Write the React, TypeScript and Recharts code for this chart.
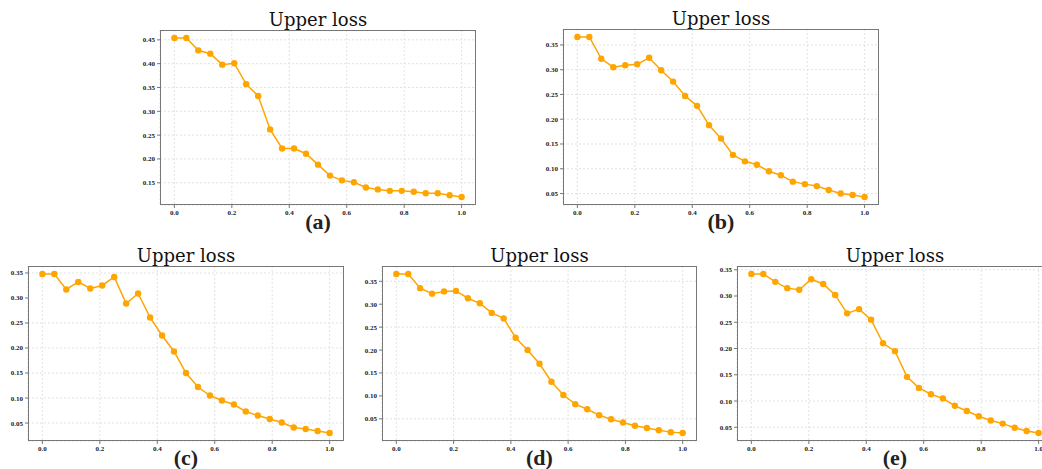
import { CartesianGrid, Line, LineChart, XAxis, YAxis } from 'recharts'

const steps = [
  0, 0.0417, 0.0833, 0.125, 0.1667, 0.2083, 0.25, 0.2917, 0.3333, 0.375, 0.4167, 0.4583, 0.5,
  0.5417, 0.5833, 0.625, 0.6667, 0.7083, 0.75, 0.7917, 0.8333, 0.875, 0.9167, 0.9583, 1.0,
]

const lossA = [
  0.454, 0.454, 0.428, 0.421, 0.398, 0.401, 0.357, 0.332, 0.262, 0.222, 0.222, 0.211, 0.188,
  0.165, 0.155, 0.151, 0.14, 0.136, 0.133, 0.133, 0.131, 0.128, 0.128, 0.124, 0.12,
]
const lossB = [
  0.366, 0.366, 0.322, 0.305, 0.309, 0.311, 0.324, 0.299, 0.276, 0.247, 0.227, 0.188, 0.161,
  0.128, 0.115, 0.108, 0.095, 0.087, 0.074, 0.069, 0.065, 0.057, 0.05, 0.047, 0.043,
]
const lossC = [
  0.348, 0.348, 0.317, 0.332, 0.319, 0.325, 0.342, 0.289, 0.309, 0.261, 0.225, 0.193, 0.15,
  0.122, 0.105, 0.095, 0.087, 0.073, 0.065, 0.058, 0.051, 0.041, 0.038, 0.034, 0.03,
]
const lossD = [
  0.366, 0.366, 0.335, 0.323, 0.328, 0.329, 0.313, 0.302, 0.281, 0.269, 0.227, 0.2, 0.17,
  0.131, 0.102, 0.082, 0.071, 0.058, 0.049, 0.042, 0.035, 0.03, 0.025, 0.021, 0.019,
]
const lossE = [
  0.342, 0.342, 0.327, 0.315, 0.312, 0.332, 0.323, 0.302, 0.267, 0.275, 0.255, 0.21, 0.195,
  0.146, 0.125, 0.113, 0.105, 0.091, 0.081, 0.071, 0.063, 0.057, 0.049, 0.043, 0.039,
]

const xTicks = [0, 0.2, 0.4, 0.6, 0.8, 1.0]
const yTicksA = [0.15, 0.2, 0.25, 0.3, 0.35, 0.4, 0.45]
const yTicksRest = [0.05, 0.1, 0.15, 0.2, 0.25, 0.3, 0.35]

const panelLabels = ['(a)', '(b)', '(c)', '(d)', '(e)']
const title = 'Upper loss'

const ORANGE = '#FFA500'
const Y_AXIS_W = 32
const X_AXIS_H = 20

type Frame = { left: number; top: number; w: number; h: number }

function Panel({
  values,
  yTicks,
  label,
  frame,
}: {
  values: number[]
  yTicks: number[]
  label: string
  frame: Frame
}) {
  const data = steps.map((x, i) => ({ x, y: values[i] }))
  const lo = Math.min(...values)
  const hi = Math.max(...values)
  const pad = (hi - lo) * 0.05
  const tickStyle = { fill: '#222', fontSize: 7, fontWeight: 700, fontFamily: '"Liberation Serif", serif' }

  return (
    <>
      <div
        style={{
          position: 'absolute',
          left: frame.left,
          top: frame.top - 19,
          width: frame.w,
          textAlign: 'center',
          fontFamily: '"DejaVu Serif", serif',
          fontSize: 18,
          lineHeight: '18px',
          color: '#111',
        }}
      >
        {title}
      </div>
      <div style={{ position: 'absolute', left: frame.left - Y_AXIS_W, top: frame.top }}>
        <LineChart
          width={frame.w + Y_AXIS_W}
          height={frame.h + X_AXIS_H}
          data={data}
          margin={{ top: 0, right: 0, bottom: 0, left: 0 }}
        >
          <CartesianGrid stroke="#e2e2e2" strokeDasharray="2 2" />
          <XAxis
            type="number"
            dataKey="x"
            domain={[-0.05, 1.05]}
            ticks={xTicks}
            tickFormatter={(v) => Number(v).toFixed(1)}
            height={X_AXIS_H}
            tick={tickStyle}
            tickSize={3}
            tickLine={{ stroke: '#777' }}
            axisLine={false}
          />
          <YAxis
            type="number"
            domain={[lo - pad, hi + pad]}
            ticks={yTicks}
            tickFormatter={(v) => Number(v).toFixed(2)}
            width={Y_AXIS_W}
            tick={tickStyle}
            tickSize={3}
            tickLine={{ stroke: '#777' }}
            axisLine={false}
            allowDataOverflow
          />
          <Line
            type="linear"
            dataKey="y"
            stroke={ORANGE}
            strokeWidth={1.5}
            dot={{ r: 3.2, fill: ORANGE, stroke: ORANGE, strokeWidth: 0 }}
            isAnimationActive={false}
          />
        </LineChart>
      </div>
      <div
        style={{
          position: 'absolute',
          left: frame.left,
          top: frame.top,
          width: frame.w,
          height: frame.h,
          border: '1px solid #777',
          boxSizing: 'border-box',
          pointerEvents: 'none',
        }}
      />
      <div
        style={{
          position: 'absolute',
          left: frame.left,
          top: frame.top + frame.h + 6,
          width: frame.w,
          textAlign: 'center',
          fontFamily: '"Liberation Serif", serif',
          fontWeight: 700,
          fontSize: 22,
          lineHeight: '21px',
          color: '#222',
        }}
      >
        {label}
      </div>
    </>
  )
}

export default function App() {
  return (
    <div
      style={{
        position: 'absolute',
        left: 0,
        top: 0,
        width: 1042,
        height: 469,
        overflow: 'hidden',
        background: '#fff',
      }}
    >
      <Panel values={lossA} yTicks={yTicksA} label={panelLabels[0]} frame={{ left: 160, top: 30, w: 316, h: 175 }} />
      <Panel values={lossB} yTicks={yTicksRest} label={panelLabels[1]} frame={{ left: 563, top: 29, w: 316, h: 176 }} />
      <Panel values={lossC} yTicks={yTicksRest} label={panelLabels[2]} frame={{ left: 28, top: 266, w: 316, h: 175 }} />
      <Panel values={lossD} yTicks={yTicksRest} label={panelLabels[3]} frame={{ left: 382, top: 266, w: 315, h: 175 }} />
      <Panel values={lossE} yTicks={yTicksRest} label={panelLabels[4]} frame={{ left: 737, top: 266, w: 316, h: 175 }} />
    </div>
  )
}
